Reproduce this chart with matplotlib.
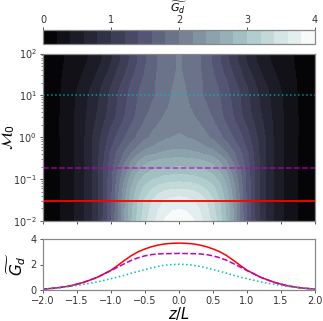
import numpy as np
import matplotlib
matplotlib.use("Agg")
from matplotlib import pyplot as plt

# half of the z axis, the map is mirrored around z=0
z_half = [0, .1, .2, .3, .4, .5, .6, .7, .8, .9, 1.0, 1.2, 1.4, 1.6, 1.8, 2.0]
mach = [0.01, 0.02, 0.03, 0.06, 0.1, 0.18, 0.4, 0.6, 1, 2, 3, 5, 10, 15, 30, 60, 100]
# one row per mach value, low to high
G_half = [
    [3.95, 3.92, 3.82, 3.68, 3.52, 3.33, 3.08, 2.78, 2.40, 1.98, 1.56, 0.95, 0.57, 0.32, 0.16, 0.07],
    [3.78, 3.76, 3.70, 3.59, 3.45, 3.26, 3.03, 2.75, 2.38, 1.97, 1.55, 0.95, 0.57, 0.32, 0.16, 0.07],
    [3.68, 3.66, 3.62, 3.53, 3.40, 3.22, 3.00, 2.72, 2.36, 1.96, 1.55, 0.95, 0.57, 0.32, 0.16, 0.07],
    [3.38, 3.37, 3.33, 3.27, 3.18, 3.05, 2.88, 2.62, 2.29, 1.92, 1.54, 0.95, 0.57, 0.32, 0.16, 0.07],
    [3.10, 3.09, 3.07, 3.03, 2.97, 2.88, 2.74, 2.50, 2.20, 1.87, 1.53, 0.95, 0.57, 0.32, 0.16, 0.07],
    [2.83, 2.82, 2.81, 2.79, 2.75, 2.67, 2.52, 2.32, 2.06, 1.79, 1.51, 0.95, 0.57, 0.32, 0.16, 0.07],
    [2.48, 2.47, 2.45, 2.42, 2.37, 2.30, 2.18, 2.02, 1.84, 1.65, 1.44, 0.94, 0.57, 0.32, 0.16, 0.07],
    [2.35, 2.33, 2.30, 2.25, 2.19, 2.11, 2.00, 1.87, 1.72, 1.55, 1.36, 0.94, 0.57, 0.32, 0.16, 0.07],
    [2.22, 2.20, 2.16, 2.10, 2.03, 1.95, 1.84, 1.72, 1.59, 1.45, 1.28, 0.92, 0.57, 0.32, 0.16, 0.07],
    [2.13, 2.11, 2.07, 2.01, 1.93, 1.84, 1.72, 1.60, 1.47, 1.32, 1.17, 0.86, 0.56, 0.33, 0.16, 0.07],
    [2.08, 2.06, 2.02, 1.96, 1.88, 1.78, 1.66, 1.54, 1.40, 1.25, 1.10, 0.82, 0.55, 0.33, 0.16, 0.07],
    [2.05, 2.03, 1.98, 1.90, 1.82, 1.73, 1.63, 1.51, 1.37, 1.22, 1.07, 0.79, 0.54, 0.32, 0.15, 0.07],
    [2.04, 2.01, 1.93, 1.84, 1.76, 1.68, 1.60, 1.48, 1.34, 1.20, 1.05, 0.76, 0.52, 0.31, 0.15, 0.07],
    [2.03, 2.00, 1.93, 1.84, 1.76, 1.67, 1.58, 1.45, 1.31, 1.16, 1.01, 0.72, 0.49, 0.30, 0.15, 0.07],
    [2.02, 1.98, 1.91, 1.83, 1.73, 1.62, 1.49, 1.35, 1.20, 1.05, 0.90, 0.62, 0.42, 0.27, 0.15, 0.07],
    [2.02, 1.96, 1.89, 1.81, 1.71, 1.57, 1.42, 1.26, 1.11, 0.95, 0.79, 0.53, 0.36, 0.25, 0.14, 0.06],
    [2.02, 1.95, 1.88, 1.81, 1.70, 1.56, 1.40, 1.23, 1.08, 0.92, 0.75, 0.50, 0.34, 0.24, 0.14, 0.06],
]

# line panel values, same half axis
red_half = [3.68, 3.66, 3.62, 3.53, 3.40, 3.22, 3.00, 2.70, 2.33, 1.93, 1.55, 1.00, 0.60, 0.32, 0.16, 0.07]
purple_half = [2.87, 2.86, 2.85, 2.83, 2.78, 2.68, 2.53, 2.33, 2.07, 1.80, 1.52, 1.00, 0.60, 0.32, 0.16, 0.07]
cyan_half = [2.02, 2.00, 1.95, 1.86, 1.74, 1.60, 1.46, 1.32, 1.16, 1.02, 0.89, 0.64, 0.44, 0.27, 0.14, 0.07]

mach_red, mach_purple, mach_cyan = 0.03, 0.18, 10
levels = np.arange(0, 4.01, 0.2)


def mirror(v):
    v = np.asarray(v, dtype=float)
    return np.concatenate((v[:0:-1], v))


z = np.concatenate((-np.array(z_half[:0:-1]), z_half))
G = np.array([mirror(r) for r in G_half])

plt.rcParams["mathtext.fontset"] = "dejavusans"
fig = plt.figure(figsize=(3.23, 3.21), dpi=100)
W, H = 323.0, 321.0


def box(l, t, r, b):
    return [l / W, 1 - b / H, (r - l) / W, (b - t) / H]


cax = fig.add_axes(box(43, 29.5, 315, 43.5))
ax = fig.add_axes(box(43, 53.5, 315, 221))
ax2 = fig.add_axes(box(43, 239, 315, 290))

cf = ax.contourf(z, mach, G, levels=levels, cmap="bone")
ax.set_yscale("log")
ax.set_ylim(0.01, 100)
ax.set_xlim(-2, 2)
ax.axhline(mach_red, color="red", lw=1.3)
ax.axhline(mach_purple, color="m", ls="--", lw=1.1, alpha=0.75)
ax.axhline(mach_cyan, color="c", ls=":", lw=1.1, alpha=0.75)
ax.set_xticks(np.arange(-2, 2.01, 0.5))
ax.set_xticklabels([])
ax.tick_params(labelsize=7, length=2.5, width=0.7, pad=2, labelcolor="#333333", color="#555555")
ax.tick_params(which="minor", length=1.5, width=0.5, color="#555555")
ax.set_ylabel(r"$\mathcal{M}_0$", fontsize=11)
ax.yaxis.set_label_coords(-26 / 272.0, 0.5)

cb = fig.colorbar(cf, cax=cax, orientation="horizontal", ticks=[0, 1, 2, 3, 4])
cax.xaxis.set_ticks_position("top")
cax.xaxis.set_label_position("top")
cax.tick_params(labelsize=7, length=2, width=0.7, pad=1, labelcolor="#333333", color="#555555")
cb.set_label(r"$\widetilde{G_d}$", fontsize=8)
cax.xaxis.set_label_coords(0.5, 2.2)

ax2.plot(z, mirror(red_half), color="red", lw=1.1)
ax2.plot(z, mirror(purple_half), color="m", ls="--", lw=1.1)
ax2.plot(z, mirror(cyan_half), color="c", ls=":", lw=1.1)
ax2.set_xlim(-2, 2)
ax2.set_ylim(0, 4)
ax2.set_yticks([0, 2, 4])
ax2.set_xticks(np.arange(-2, 2.01, 0.5))
ax2.tick_params(labelsize=7, length=2.5, width=0.7, pad=2, labelcolor="#333333", color="#555555")
ax2.set_xlabel(r"$z/L$", fontsize=10.5)
ax2.xaxis.set_label_coords(0.5, -0.29)
ax2.set_ylabel(r"$\widetilde{G_d}$", fontsize=11)
ax2.yaxis.set_label_coords(-15 / 272.0, 0.5)

for a in (cax, ax, ax2):
    for s in a.spines.values():
        s.set_color("#888888")
        s.set_linewidth(0.9)

fig.savefig("out.png", dpi=100)
